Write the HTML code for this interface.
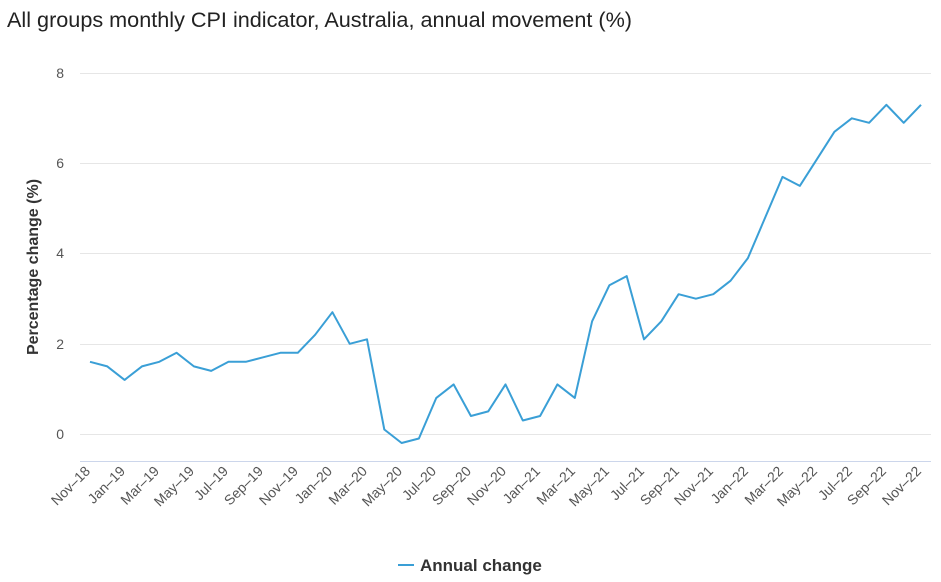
<!DOCTYPE html>
<html><head><meta charset="utf-8"><style>
body{margin:0;background:#fff;}
svg{display:block;font-family:"Liberation Sans","DejaVu Sans",sans-serif;}
</style></head><body>
<svg width="941" height="582" viewBox="0 0 941 582" xmlns="http://www.w3.org/2000/svg">
<text x="7" y="27" font-size="21" fill="#222" textLength="625" lengthAdjust="spacingAndGlyphs">All groups monthly CPI indicator, Australia, annual movement (%)</text>
<g stroke="#e6e6e6" stroke-width="1">
<line x1="80" x2="931" y1="73.5" y2="73.5"/>
<line x1="80" x2="931" y1="163.5" y2="163.5"/>
<line x1="80" x2="931" y1="253.5" y2="253.5"/>
<line x1="80" x2="931" y1="344.5" y2="344.5"/>
<line x1="80" x2="931" y1="434.5" y2="434.5"/>
</g>
<line x1="80" x2="931" y1="461.5" y2="461.5" stroke="#ccd6eb"/>
<g font-size="14" fill="#555" text-anchor="end">
<text x="64" y="78">8</text><text x="64" y="168">6</text><text x="64" y="258">4</text><text x="64" y="349">2</text><text x="64" y="439">0</text>
</g>
<text transform="translate(38,267) rotate(-90)" font-size="16" font-weight="bold" fill="#333" text-anchor="middle">Percentage change (%)</text>
<g font-size="14" fill="#555" text-anchor="end">
<text transform="translate(91,472) rotate(-45)">Nov–18</text>
<text transform="translate(126,472) rotate(-45)">Jan–19</text>
<text transform="translate(160,472) rotate(-45)">Mar–19</text>
<text transform="translate(195,472) rotate(-45)">May–19</text>
<text transform="translate(229,472) rotate(-45)">Jul–19</text>
<text transform="translate(264,472) rotate(-45)">Sep–19</text>
<text transform="translate(299,472) rotate(-45)">Nov–19</text>
<text transform="translate(333,472) rotate(-45)">Jan–20</text>
<text transform="translate(368,472) rotate(-45)">Mar–20</text>
<text transform="translate(403,472) rotate(-45)">May–20</text>
<text transform="translate(437,472) rotate(-45)">Jul–20</text>
<text transform="translate(472,472) rotate(-45)">Sep–20</text>
<text transform="translate(507,472) rotate(-45)">Nov–20</text>
<text transform="translate(541,472) rotate(-45)">Jan–21</text>
<text transform="translate(576,472) rotate(-45)">Mar–21</text>
<text transform="translate(610,472) rotate(-45)">May–21</text>
<text transform="translate(645,472) rotate(-45)">Jul–21</text>
<text transform="translate(680,472) rotate(-45)">Sep–21</text>
<text transform="translate(714,472) rotate(-45)">Nov–21</text>
<text transform="translate(749,472) rotate(-45)">Jan–22</text>
<text transform="translate(784,472) rotate(-45)">Mar–22</text>
<text transform="translate(818,472) rotate(-45)">May–22</text>
<text transform="translate(853,472) rotate(-45)">Jul–22</text>
<text transform="translate(887,472) rotate(-45)">Sep–22</text>
<text transform="translate(922,472) rotate(-45)">Nov–22</text>
</g>
<polyline id="ln" fill="none" stroke="#3a9fd6" stroke-width="2" stroke-linejoin="round"/>
<line x1="398" x2="414" y1="565" y2="565" stroke="#3a9fd6" stroke-width="2"/>
<text x="420" y="571" font-size="17" font-weight="bold" fill="#333">Annual change</text>
<script>
var d=[1.6,1.5,1.2,1.5,1.6,1.8,1.5,1.4,1.6,1.6,1.7,1.8,1.8,2.2,2.7,2.0,2.1,0.1,-0.2,-0.1,0.8,1.1,0.4,0.5,1.1,0.3,0.4,1.1,0.8,2.5,3.3,3.5,2.1,2.5,3.1,3.0,3.1,3.4,3.9,4.8,5.7,5.5,6.1,6.7,7.0,6.9,7.3,6.9,7.3];
var X=function(i){return 90+i*(831/48);},Y=function(v){return 434-v*45.1;};
document.getElementById('ln').setAttribute('points',d.map(function(v,i){return X(i).toFixed(1)+','+Y(v).toFixed(1)}).join(' '));
</script>
</svg>
</body></html>
